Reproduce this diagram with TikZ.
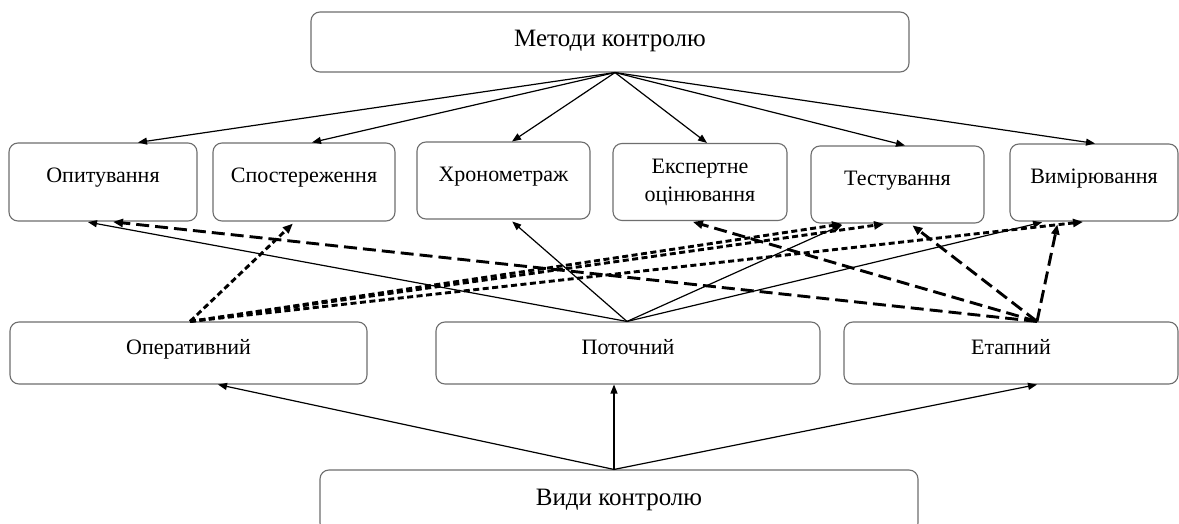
\documentclass[tikz,border=0pt]{standalone}
\usepackage{fontspec}
\setmainfont{Liberation Serif}
\usetikzlibrary{arrows.meta}
\definecolor{boxgray}{HTML}{6E6E6E}
\begin{document}
\begin{tikzpicture}[x=1pt,y=-1pt,
  box/.style={draw=boxgray, line width=1.1pt, rounded corners=9pt, inner sep=0pt,
    font=\fontsize{22}{28}\selectfont, text height=14pt, text depth=12pt},
  topbox/.style={box, font=\fontsize{25}{28}\selectfont, text height=17pt, text depth=8pt},
  twoline/.style={draw=boxgray, line width=1.1pt, rounded corners=9pt, inner sep=0pt,
    font=\fontsize{22}{28}\selectfont, align=center},
  tip/.style={-{Triangle[length=9pt,width=7pt]}},
  sol/.style={tip, line width=1.2pt},
  ldash/.style={-{Triangle[length=10pt,width=8pt]}, line width=2.9pt, dash pattern=on 13pt off 6pt},
  sdash/.style={-{Triangle[length=10pt,width=8pt]}, line width=2.9pt, dash pattern=on 6pt off 3.5pt},
  gap/.style={shorten >=3pt}
]
\useasboundingbox (0,0) rectangle (1179,524);
\clip (0,0) rectangle (1179,524);
\fill[white] (0,0) rectangle (1179,524);

% top
\node[topbox, minimum width=598pt, minimum height=60pt] (M) at (610,42) {Методи контролю};

% middle row
\node[box, minimum width=188pt, minimum height=78pt] (O1) at (103,182) {Опитування};
\node[box, minimum width=182pt, minimum height=78pt] (O2) at (304,182) {Спостереження};
\node[box, minimum width=173pt, minimum height=77pt] (O3) at (503.5,180.5) {Хронометраж};
\node[twoline, minimum width=174pt, minimum height=77pt] (O4) at (700,182) {Експертне\\оцінювання};
\node[box, minimum width=173pt, minimum height=77pt] (O5) at (897.5,184.5) {Тестування};
\node[box, minimum width=168pt, minimum height=77pt] (O6) at (1094,182.5) {Вимірювання};

% bottom row
\node[box, minimum width=357pt, minimum height=62pt] (B1) at (188.5,353) {Оперативний};
\node[box, minimum width=384pt, minimum height=62pt] (B2) at (628,353) {Поточний};
\node[box, minimum width=334pt, minimum height=62pt] (B3) at (1011,353) {Етапний};

% bottom
\node[topbox, minimum width=598pt, minimum height=62pt] (V) at (619,501) {Види контролю};

% methods arrows
\coordinate (mo) at ([xshift=5pt]M.south);
\foreach \n/\s in {O1/35, O2/8, O3/8.5, O4/7, O5/7.5, O6/1}
  \draw[sol] (mo) -- ([xshift=\s pt]\n.north);

% kinds arrows
\coordinate (vo) at ([xshift=-5pt]V.north);
\foreach \n/\s in {B1/29.5, B2/-14, B3/26}
  \draw[sol] (vo) -- ([xshift=\s pt]\n.south);

% origins on bottom row
\coordinate (op) at ([xshift=1.5pt]B1.north);
\coordinate (po) at ([xshift=-1pt]B2.north);
\coordinate (et) at ([xshift=26pt]B3.north);

% current (solid)
\foreach \n/\s in {O1/-18, O3/6.5, O5/-52.5, O6/-49}
  \draw[sol, gap] (po) -- ([xshift=\s pt]\n.south);

% stage (long dashes)
\foreach \n/\s in {O1/7, O4/-10, O5/12.5, O6/-36}
  \draw[ldash, gap] (et) -- ([xshift=\s pt]\n.south);

% operative (short dashes)
\foreach \n/\s in {O2/-9, O5/-52.5, O5/-10.5, O6/-8}
  \draw[sdash, gap] (op) -- ([xshift=\s pt]\n.south);
\end{tikzpicture}
\end{document}
